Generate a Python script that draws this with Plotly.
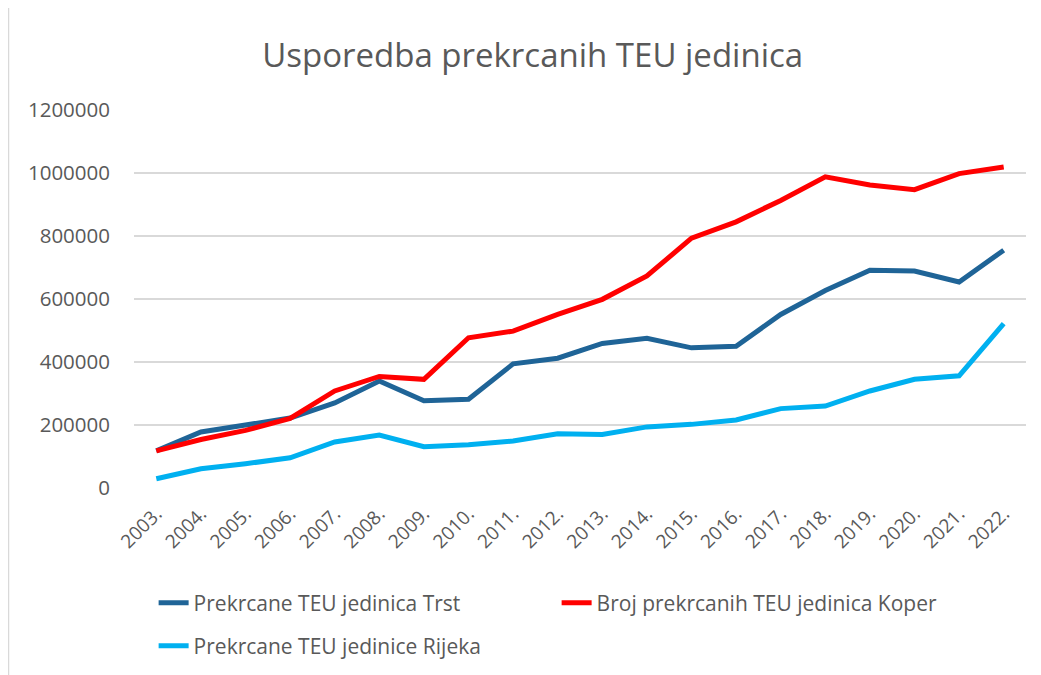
import plotly.graph_objects as go

years = [f"{y}." for y in range(2003, 2023)]

trst = [118000, 178000, 200000, 222000, 270000, 340000, 277000, 282000, 394000, 412000,
        459000, 475000, 445000, 450000, 551000, 627000, 691000, 689000, 654000, 755000]
koper = [118000, 154000, 183000, 221000, 308000, 354000, 345000, 477000, 498000, 551000,
         599000, 673000, 793000, 845000, 913000, 988000, 962000, 947000, 998000, 1019000]
rijeka = [29500, 61000, 77000, 96000, 146000, 168000, 131000, 137000, 149000, 172000,
          170000, 194000, 202000, 216000, 252000, 260000, 308000, 345000, 356000, 522000]

series = [
    ("Prekrcane TEU jedinica Trst", trst, "#1F6497", "legend"),
    ("Broj prekrcanih TEU jedinica Koper", koper, "#FF0000", "legend"),
    ("Prekrcane TEU jedinice Rijeka", rijeka, "#00B0F0", "legend2"),
]

fig = go.Figure()
for name, vals, color, leg in series:
    fig.add_trace(go.Scatter(
        x=years, y=vals, name=name, mode="lines",
        line=dict(color=color, width=5), legend=leg,
    ))

# plot area is 892 x 378 px, bottom edge at 480 px from the top
legend_style = dict(orientation="h", x=0.022, xanchor="left", yanchor="middle",
                    entrywidth=358, font=dict(size=21, color="#595959"),
                    bgcolor="rgba(0,0,0,0)")

fig.update_layout(
    width=1041, height=675,
    paper_bgcolor="white", plot_bgcolor="white",
    font=dict(family="Open Sans", color="#595959", size=20),
    title=dict(text="Usporedba prekrcanih TEU jedinica", x=0.504, xanchor="center",
               y=0.929, yanchor="middle", font=dict(size=33, color="#595959")),
    margin=dict(l=126, r=23, t=102, b=195, autoexpand=False),
    showlegend=True,
    legend=dict(legend_style, y=(480 - 595) / 378),
    legend2=dict(legend_style, y=(480 - 638) / 378),
)
fig.update_xaxes(type="category", range=[-0.5, 19.5], showgrid=False, showline=False,
                 tickangle=-45, ticks="", tickfont=dict(size=19), ticklabelstandoff=10)
fig.update_yaxes(range=[0, 1200000], dtick=200000, showgrid=True, gridcolor="#D9D9D9",
                 gridwidth=1.5, zeroline=False, showline=False, tickformat="d",
                 ticks="", ticklabelstandoff=23, tickfont=dict(size=20.5))

# chart area border on the left edge
fig.add_shape(type="line", xref="paper", yref="paper",
              x0=(0.5 - 126) / 892, x1=(0.5 - 126) / 892, y0=-0.6, y1=1.3,
              line=dict(color="#D9D9D9", width=1.5))

fig.write_html("out.html")
